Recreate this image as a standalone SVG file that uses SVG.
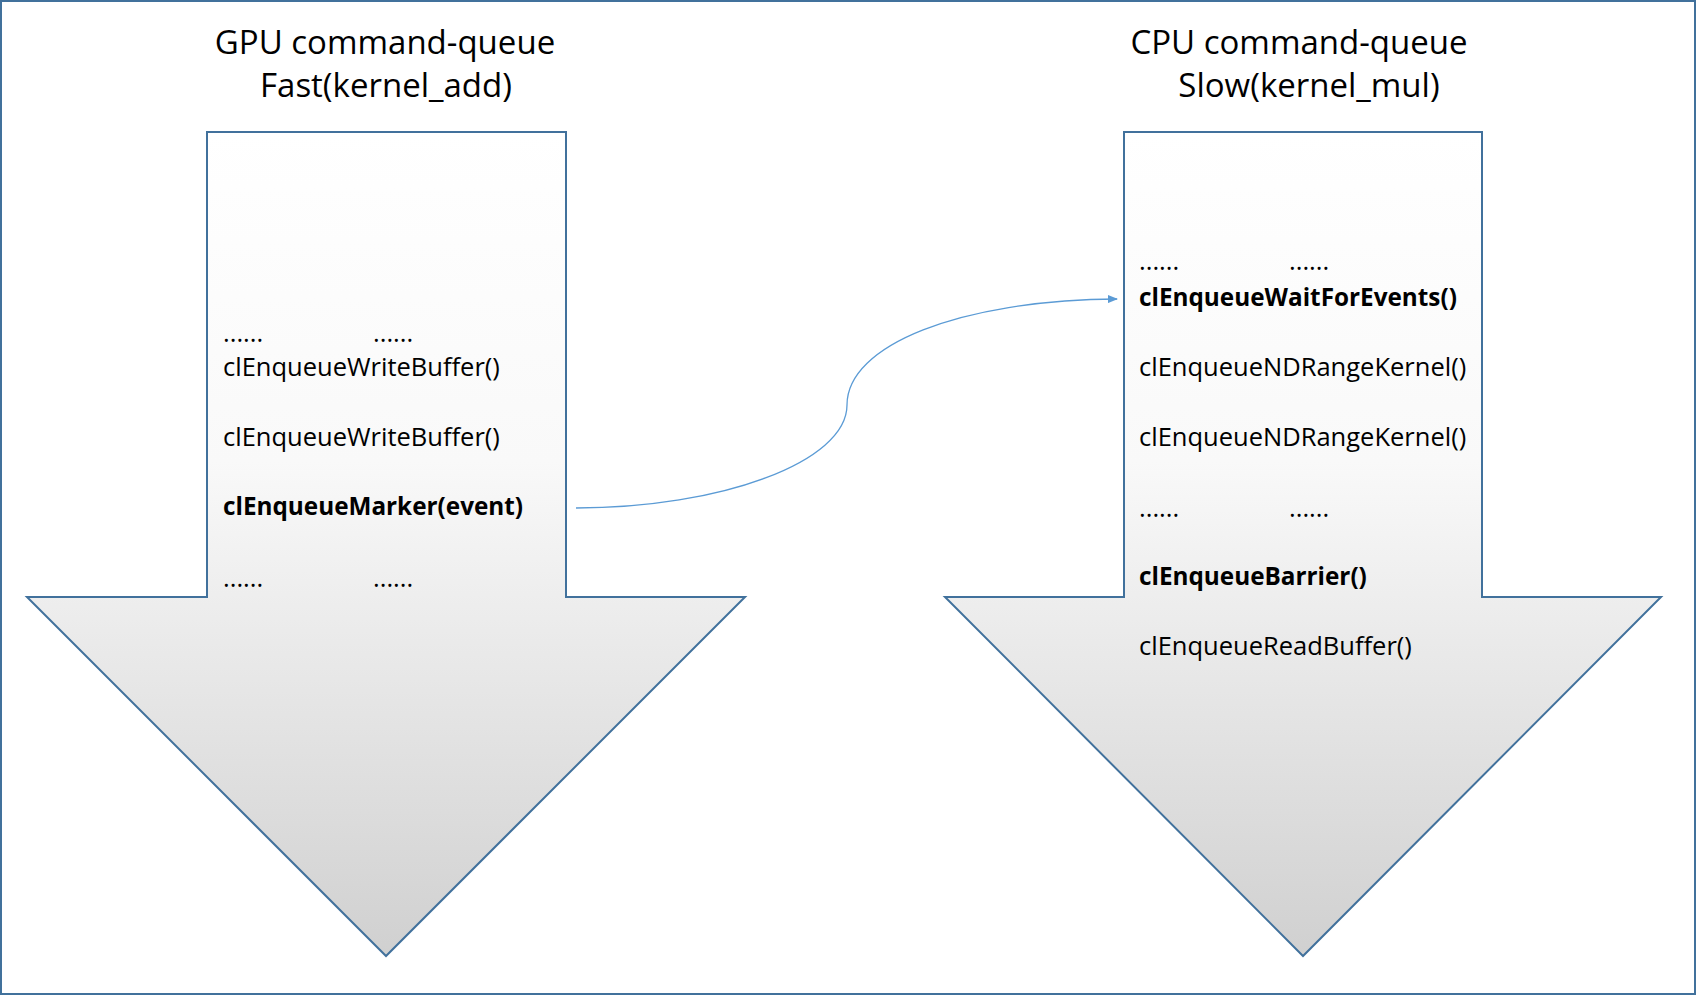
<svg xmlns="http://www.w3.org/2000/svg" width="1696" height="995" viewBox="0 0 1696 995">
  <defs>
    <linearGradient id="g" x1="0" y1="0" x2="0" y2="1">
      <stop offset="0" stop-color="#ffffff"/>
      <stop offset="0.4" stop-color="#f9f9f9"/>
      <stop offset="1" stop-color="#d0d0d0"/>
    </linearGradient>
    <marker id="ah" markerWidth="10" markerHeight="8" refX="9" refY="4" orient="auto" markerUnits="userSpaceOnUse">
      <path d="M0,0 L10,4 L0,8 Z" fill="#5b9bd5"/>
    </marker>
    <style>
      .arrow { fill: url(#g); stroke: #41719c; stroke-width: 2; }
      .title { font-family: "Open Sans", "Liberation Sans", sans-serif; font-size: 33px; fill: #000; text-anchor: middle; }
      .t { font-family: "Open Sans", "Liberation Sans", sans-serif; font-size: 25.5px; fill: #000; }
      .b { font-weight: bold; font-size: 24.3px; }
    </style>
  </defs>
  <rect x="0" y="0" width="1696" height="995" fill="#ffffff"/>
  <rect x="1" y="1" width="1694" height="993" fill="none" stroke="#41719c" stroke-width="2"/>

  <g id="gpu-queue">
    <path class="arrow" d="M207,132 H566 V597 H745 L386,956 L27,597 H207 Z"/>
    <text class="title" x="385" y="54">GPU command-queue</text>
    <text class="title" x="386" y="97">Fast(kernel_add)</text>
    <text class="t" x="223" y="342">......</text>
    <text class="t" x="373" y="342">......</text>
    <text class="t" x="223" y="376">clEnqueueWriteBuffer()</text>
    <text class="t" x="223" y="446">clEnqueueWriteBuffer()</text>
    <text class="t b" x="223" y="515">clEnqueueMarker(event)</text>
    <text class="t" x="223" y="587">......</text>
    <text class="t" x="373" y="587">......</text>
  </g>

  <g id="cpu-queue">
    <path class="arrow" d="M1124,132 H1482 V597 H1661 L1303,956 L945,597 H1124 Z"/>
    <text class="title" x="1299" y="54">CPU command-queue</text>
    <text class="title" x="1309" y="97">Slow(kernel_mul)</text>
    <text class="t" x="1139" y="270">......</text>
    <text class="t" x="1289" y="270">......</text>
    <text class="t b" x="1139" y="306">clEnqueueWaitForEvents()</text>
    <text class="t" x="1139" y="376">clEnqueueNDRangeKernel()</text>
    <text class="t" x="1139" y="446">clEnqueueNDRangeKernel()</text>
    <text class="t" x="1139" y="517">......</text>
    <text class="t" x="1289" y="517">......</text>
    <text class="t b" x="1139" y="585">clEnqueueBarrier()</text>
    <text class="t" x="1139" y="655">clEnqueueReadBuffer()</text>
  </g>

  <g id="connectors">
    <path d="M576,508 C720,508 847,462 847,405 C847,345 960,300 1117,299" fill="none" stroke="#5b9bd5" stroke-width="1.3" marker-end="url(#ah)"/>
  </g>
</svg>
